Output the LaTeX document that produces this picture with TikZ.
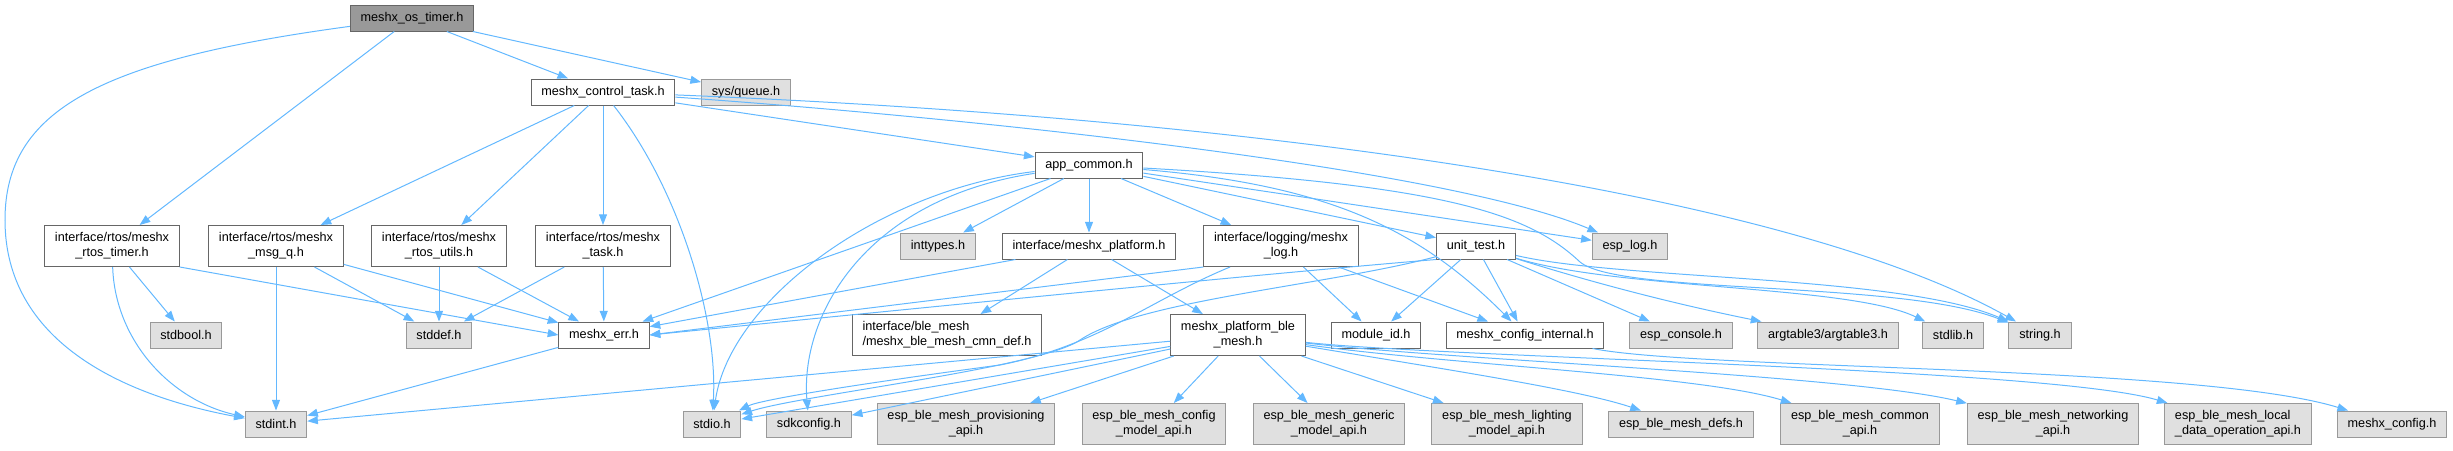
\documentclass[tikz,border=0pt]{standalone}
\usepackage{fontspec}
\setmainfont{Liberation Sans}
\usepackage{xcolor}
\usepackage{tikz}
\usetikzlibrary{arrows.meta}

\definecolor{incblue}{HTML}{63B8FF}

\begin{document}
\begin{tikzpicture}[
    x=0.75pt, y=-0.75pt,
    hdr/.style={draw=black!60, line width=0.75pt, fill=white, minimum height=19.5pt, inner xsep=7.7pt, inner ysep=2pt, align=center, font=\fontsize{9.5}{11.4}\selectfont},
    sys_hdr/.style={hdr, draw=black!40, fill=black!12},
    cur_hdr/.style={hdr, fill=black!40},
    two_line/.style={minimum height=30.75pt},
    inc_line/.style={draw=incblue, line width=0.75pt, -{Triangle[length=8pt, width=6pt]}}
]
    \useasboundingbox (0,0) rectangle (2453,450);

    % Top of the graph
    \node (os_timer) [cur_hdr] at (412,18) {meshx\_os\_timer.h};
    \node (ctrl_task) [hdr] at (603,92) {meshx\_control\_task.h};
    \node (sys_queue) [sys_hdr] at (746,92) {sys/queue.h};
    \node (app_common) [hdr] at (1089,165) {app\_common.h};

    % Second level headers
    \node (rtos_timer) [hdr, two_line] at (112,246) {interface/rtos/meshx\\\_rtos\_timer.h};
    \node (msg_q) [hdr, two_line] at (276,246) {interface/rtos/meshx\\\_msg\_q.h};
    \node (rtos_utils) [hdr, two_line] at (439,246) {interface/rtos/meshx\\\_rtos\_utils.h};
    \node (rtos_task) [hdr, two_line] at (603,246) {interface/rtos/meshx\\\_task.h};
    \node (inttypes) [sys_hdr] at (938,246) {inttypes.h};
    \node (platform) [hdr] at (1089,246) {interface/meshx\_platform.h};
    \node (log) [hdr, two_line] at (1281,246) {interface/logging/meshx\\\_log.h};
    \node (unit_test) [hdr] at (1476,246) {unit\_test.h};
    \node (esp_log) [sys_hdr] at (1630,246) {esp\_log.h};

    % Third level headers
    \node (stdbool) [sys_hdr] at (186,335) {stdbool.h};
    \node (stddef) [sys_hdr] at (439,335) {stddef.h};
    \node (err) [hdr] at (604,335) {meshx\_err.h};
    \node (cmn_def) [hdr, two_line, align=left] at (947,335) {interface/ble\_mesh\\/meshx\_ble\_mesh\_cmn\_def.h};
    \node (plat_ble) [hdr, two_line] at (1238,335) {meshx\_platform\_ble\\\_mesh.h};
    \node (module_id) [hdr] at (1376,335) {module\_id.h};
    \node (cfg_int) [hdr] at (1525,335) {meshx\_config\_internal.h};
    \node (console) [sys_hdr] at (1681,335) {esp\_console.h};
    \node (argtable) [sys_hdr] at (1828,335) {argtable3/argtable3.h};
    \node (stdlib) [sys_hdr] at (1953,335) {stdlib.h};
    \node (string) [sys_hdr] at (2040,335) {string.h};

    % Bottom row
    \node (stdint) [sys_hdr] at (276,424) {stdint.h};
    \node (stdio) [sys_hdr] at (712,424) {stdio.h};
    \node (sdkconfig) [sys_hdr] at (809,424) {sdkconfig.h};
    \node (prov_api) [sys_hdr, two_line] at (966,424) {esp\_ble\_mesh\_provisioning\\\_api.h};
    \node (cfg_model) [sys_hdr, two_line] at (1154,424) {esp\_ble\_mesh\_config\\\_model\_api.h};
    \node (gen_model) [sys_hdr, two_line] at (1329,424) {esp\_ble\_mesh\_generic\\\_model\_api.h};
    \node (light_model) [sys_hdr, two_line] at (1507,424) {esp\_ble\_mesh\_lighting\\\_model\_api.h};
    \node (defs) [sys_hdr] at (1681,424) {esp\_ble\_mesh\_defs.h};
    \node (common_api) [sys_hdr, two_line] at (1860,424) {esp\_ble\_mesh\_common\\\_api.h};
    \node (net_api) [sys_hdr, two_line] at (2053,424) {esp\_ble\_mesh\_networking\\\_api.h};
    \node (local_api) [sys_hdr, two_line, align=left] at (2238,424) {esp\_ble\_mesh\_local\\\_data\_operation\_api.h};
    \node (cfg) [sys_hdr] at (2392,424) {meshx\_config.h};

    % Includes of meshx_os_timer.h
    \draw [inc_line] (os_timer) .. controls (100,60) and (5,110) .. (5,220) .. controls (5,340) and (120,395) .. (stdint);
    \draw [inc_line] (os_timer) -- (rtos_timer);
    \draw [inc_line] (os_timer) -- (ctrl_task);
    \draw [inc_line] (os_timer) -- (sys_queue);

    % Includes of meshx_control_task.h
    \draw [inc_line] (ctrl_task) -- (msg_q);
    \draw [inc_line] (ctrl_task) -- (rtos_utils);
    \draw [inc_line] (ctrl_task) -- (rtos_task);
    \draw [inc_line] (ctrl_task) .. controls (680,190) and (718,320) .. (stdio);
    \draw [inc_line] (ctrl_task) -- (app_common);
    \draw [inc_line] (ctrl_task) .. controls (1000,120) and (1450,170) .. (esp_log);
    \draw [inc_line] (ctrl_task) .. controls (1300,120) and (1800,200) .. (string);

    % Includes of the rtos headers
    \draw [inc_line] (rtos_timer) -- (stdbool);
    \draw [inc_line] (rtos_timer) .. controls (115,340) and (170,400) .. (stdint);
    \draw [inc_line] (rtos_timer.south east) -- (err.west);
    \draw [inc_line] (msg_q) -- (stdint);
    \draw [inc_line] (msg_q) -- (stddef);
    \draw [inc_line] (msg_q) -- (err);
    \draw [inc_line] (rtos_utils) -- (stddef);
    \draw [inc_line] (rtos_utils) -- (err);
    \draw [inc_line] (rtos_task) -- (stddef);
    \draw [inc_line] (rtos_task) -- (err);
    \draw [inc_line] (err) -- (stdint);

    % Includes of app_common.h
    \draw [inc_line] (app_common) -- (inttypes);
    \draw [inc_line] (app_common) -- (platform);
    \draw [inc_line] (app_common) -- (log);
    \draw [inc_line] (app_common) -- (unit_test);
    \draw [inc_line] (app_common) -- (esp_log);
    \draw [inc_line] (app_common) -- (err);
    \draw [inc_line] (app_common) .. controls (880,190) and (730,300) .. (stdio);
    \draw [inc_line] (app_common) .. controls (860,200) and (800,320) .. (sdkconfig);
    \draw [inc_line] (app_common) .. controls (1330,185) and (1420,230) .. (cfg_int);
    \draw [inc_line] (app_common) .. controls (1450,185) and (1530,215) .. (1580,262) .. controls (1620,295) and (1900,280) .. (string);

    % Includes of platform and logging
    \draw [inc_line] (platform) -- (err);
    \draw [inc_line] (platform) -- (cmn_def);
    \draw [inc_line] (platform) -- (plat_ble);
    \draw [inc_line] (log.south west) -- (err.east);
    \draw [inc_line] (log) .. controls (1150,300) and (1100,345) .. (1000,365) .. controls (850,385) and (760,400) .. (stdio);
    \draw [inc_line] (log) -- (module_id);
    \draw [inc_line] (log) -- (cfg_int);

    % Includes of unit_test.h
    \draw [inc_line] (unit_test.south west) .. controls (1250,275) and (900,310) .. (err.east);
    \draw [inc_line] (unit_test) .. controls (1330,285) and (1140,300) .. (1080,340) .. controls (1040,368) and (800,395) .. (stdio);
    \draw [inc_line] (unit_test) -- (module_id);
    \draw [inc_line] (unit_test) -- (cfg_int);
    \draw [inc_line] (unit_test) -- (console);
    \draw [inc_line] (unit_test) .. controls (1600,285) and (1680,305) .. (argtable);
    \draw [inc_line] (unit_test) .. controls (1620,290) and (1850,285) .. (stdlib);
    \draw [inc_line] (unit_test) .. controls (1620,280) and (1900,275) .. (string);

    % Includes of meshx_platform_ble_mesh.h
    \draw [inc_line] (plat_ble) -- (stdint);
    \draw [inc_line] (plat_ble) -- (stdio);
    \draw [inc_line] (plat_ble) -- (sdkconfig);
    \draw [inc_line] (plat_ble) -- (prov_api);
    \draw [inc_line] (plat_ble) -- (cfg_model);
    \draw [inc_line] (plat_ble) -- (gen_model);
    \draw [inc_line] (plat_ble) -- (light_model);
    \draw [inc_line] (plat_ble) .. controls (1450,370) and (1580,390) .. (defs);
    \draw [inc_line] (plat_ble) .. controls (1450,365) and (1700,375) .. (common_api);
    \draw [inc_line] (plat_ble) .. controls (1450,360) and (1850,375) .. (net_api);
    \draw [inc_line] (plat_ble) .. controls (1450,358) and (2050,368) .. (local_api);

    % Includes of meshx_config_internal.h
    \draw [inc_line] (cfg_int) .. controls (1700,370) and (2200,365) .. (cfg);
\end{tikzpicture}
\end{document}
